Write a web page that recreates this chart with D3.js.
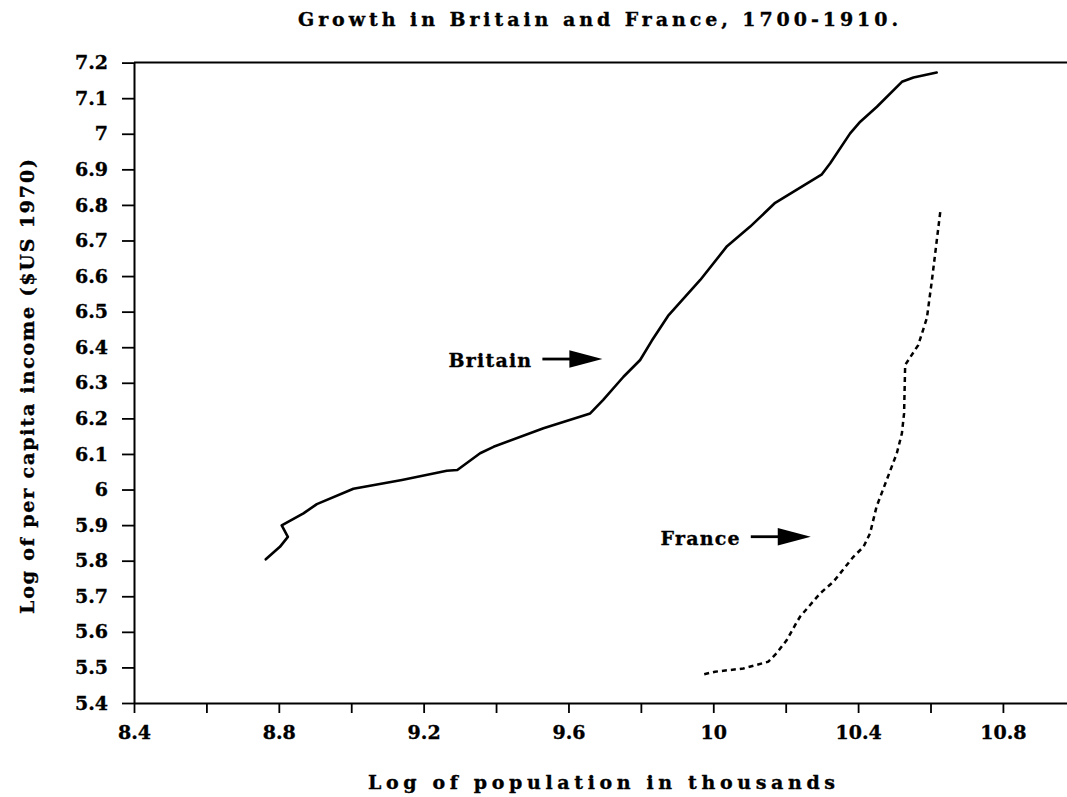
<!DOCTYPE html>
<html>
<head>
<meta charset="utf-8">
<script src="https://cdn.jsdelivr.net/npm/d3@7"></script>
<style>
  html, body { margin: 0; padding: 0; background: #fff; }
  svg { display: block; }
  text { font-family: "DejaVu Serif", "Liberation Serif", serif; font-weight: bold; fill: #000; }
</style>
</head>
<body>
<svg id="chart" width="1067" height="797"></svg>
<script>
// ---- data ----
const britainX = [8.764, 8.803, 8.825, 8.808, 8.868, 8.905, 9.006, 9.140, 9.264, 9.293, 9.356, 9.393, 9.531, 9.660, 9.696, 9.752, 9.798, 9.830, 9.875, 9.964, 10.038, 10.102, 10.171, 10.300, 10.323, 10.378, 10.406, 10.452, 10.521, 10.553, 10.617];
const britainY = [5.804, 5.839, 5.867, 5.899, 5.933, 5.959, 6.002, 6.027, 6.053, 6.055, 6.102, 6.120, 6.172, 6.214, 6.252, 6.317, 6.364, 6.418, 6.488, 6.589, 6.684, 6.739, 6.806, 6.886, 6.917, 7.001, 7.034, 7.076, 7.146, 7.158, 7.172];

const franceX = [9.975, 10.005, 10.083, 10.152, 10.175, 10.203, 10.231, 10.240, 10.295, 10.332, 10.387, 10.415, 10.433, 10.451, 10.479, 10.507, 10.521, 10.527, 10.530, 10.566, 10.590, 10.604, 10.613, 10.627];
const franceY = [5.481, 5.488, 5.497, 5.516, 5.540, 5.577, 5.628, 5.643, 5.708, 5.741, 5.811, 5.839, 5.877, 5.952, 6.027, 6.102, 6.158, 6.214, 6.350, 6.406, 6.482, 6.589, 6.664, 6.781];

const yTicks = [5.4, 5.5, 5.6, 5.7, 5.8, 5.9, 6, 6.1, 6.2, 6.3, 6.4, 6.5, 6.6, 6.7, 6.8, 6.9, 7, 7.1, 7.2];
const yTickLabels = ["5.4","5.5","5.6","5.7","5.8","5.9","6","6.1","6.2","6.3","6.4","6.5","6.6","6.7","6.8","6.9","7","7.1","7.2"];
const xTicks = [8.4, 8.6, 8.8, 9.0, 9.2, 9.4, 9.6, 9.8, 10.0, 10.2, 10.4, 10.6, 10.8];
const xTickLabels = ["8.4", "", "8.8", "", "9.2", "", "9.6", "", "10", "", "10.4", "", "10.8"];

const annotationNames = ["Britain", "France"];
const annotationX = [9.6937, 10.2693];
const annotationY = [6.3668, 5.8674];

const titleText = "Growth in Britain and France, 1700-1910.";
const xTitle = "Log of population in thousands";
const yTitle = "Log of per capita income ($US 1970)";

// ---- chart ----
const svg = d3.select("#chart");
const x = d3.scaleLinear().domain([8.4, 10.977]).range([134, 1067]);
const y = d3.scaleLinear().domain([5.4, 7.2]).range([703, 62.6]);

const FS = 19;

// top frame line
svg.append("line")
  .attr("x1", x(8.4)).attr("x2", x(10.977))
  .attr("y1", y(7.2)).attr("y2", y(7.2))
  .attr("stroke", "#000").attr("stroke-width", 2);

// left axis
const yAxis = d3.axisLeft(y)
  .tickValues(yTicks)
  .tickFormat((d, i) => yTickLabels[i])
  .tickSize(12).tickSizeOuter(0).tickPadding(14);
const gy = svg.append("g").attr("transform", `translate(${x(8.4)},0)`).call(yAxis);

// bottom axis
const xAxis = d3.axisBottom(x)
  .tickValues(xTicks)
  .tickFormat((d, i) => xTickLabels[i])
  .tickSize(10).tickSizeOuter(0).tickPadding(13);
const gx = svg.append("g").attr("transform", `translate(0,${y(5.4)})`).call(xAxis);

[gx, gy].forEach(g => {
  g.select(".domain").attr("stroke", "#000").attr("stroke-width", 2);
  g.selectAll(".tick line").attr("stroke", "#000").attr("stroke-width", 1.8);
  g.selectAll(".tick text")
    .attr("font-family", '"DejaVu Serif", serif')
    .attr("font-weight", "bold")
    .attr("font-size", FS)
    .attr("fill", "#000")
    .attr("stroke", "#000").attr("stroke-width", 0.35);
});

// lines
const line = d3.line().x(d => x(d[0])).y(d => y(d[1]));
const britain = britainX.map((v, i) => [v, britainY[i]]);
const france = franceX.map((v, i) => [v, franceY[i]]);

svg.append("path").datum(britain)
  .attr("d", line)
  .attr("fill", "none").attr("stroke", "#000")
  .attr("stroke-width", 2.6)
  .attr("stroke-linejoin", "round").attr("stroke-linecap", "round");

svg.append("path").datum(france)
  .attr("d", line)
  .attr("fill", "none").attr("stroke", "#000")
  .attr("stroke-width", 2.5)
  .attr("stroke-dasharray", "5,4");

// annotations with arrows
annotationNames.forEach((name, i) => {
  const tx = x(annotationX[i]), ty = y(annotationY[i]);
  const headLen = 33, headHalf = 8.7, shaftLen = 27;
  const g = svg.append("g");
  g.append("line")
    .attr("x1", tx - headLen - shaftLen).attr("x2", tx - headLen + 2)
    .attr("y1", ty).attr("y2", ty)
    .attr("stroke", "#000").attr("stroke-width", 2.8);
  g.append("path")
    .attr("d", `M${tx},${ty} L${tx - headLen},${ty - headHalf} L${tx - headLen},${ty + headHalf} Z`)
    .attr("fill", "#000");
  g.append("text")
    .attr("x", tx - headLen - shaftLen - 10)
    .attr("y", ty + 8)
    .attr("text-anchor", "end")
    .attr("font-size", FS)
    .attr("letter-spacing", 1.2)
    .attr("stroke", "#000").attr("stroke-width", 0.35)
    .text(name);
});

// titles
svg.append("text")
  .attr("x", 298).attr("y", 26)
  .attr("font-size", FS)
  .attr("textLength", 600).attr("lengthAdjust", "spacing")
  .attr("stroke", "#000").attr("stroke-width", 0.35)
  .text(titleText);

svg.append("text")
  .attr("x", 368).attr("y", 789)
  .attr("font-size", FS)
  .attr("textLength", 467).attr("lengthAdjust", "spacing")
  .attr("stroke", "#000").attr("stroke-width", 0.35)
  .text(xTitle);

svg.append("text")
  .attr("transform", "translate(34,614) rotate(-90)")
  .attr("x", 0).attr("y", 0)
  .attr("font-size", FS)
  .attr("textLength", 455).attr("lengthAdjust", "spacing")
  .attr("stroke", "#000").attr("stroke-width", 0.35)
  .text(yTitle);
</script>
</body>
</html>
